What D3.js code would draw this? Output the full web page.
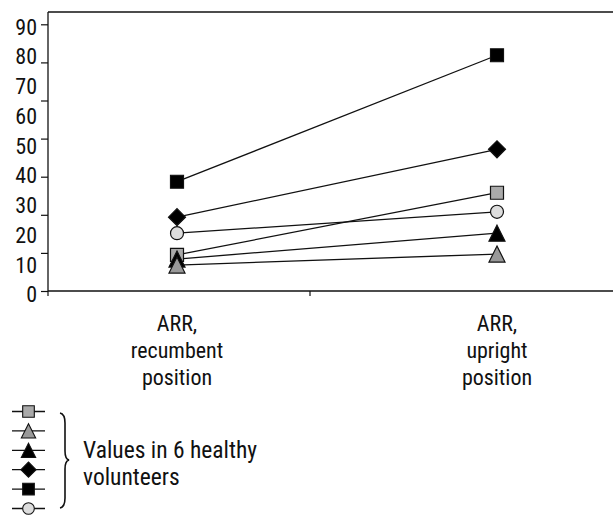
<!DOCTYPE html>
<html>
<head>
<meta charset="utf-8">
<script src="https://cdn.jsdelivr.net/npm/d3@7"></script>
<style>
  body { margin: 0; background: #fff; }
  svg { display: block; }
  text { font-family: "Roboto Condensed", "Liberation Sans Narrow", "DejaVu Sans Condensed", "Liberation Sans", Arial, sans-serif; fill: #111; }
</style>
</head>
<body>
<svg id="chart"></svg>
<script>
// data
const categories = ["ARR, recumbent position", "ARR, upright position"];
const categoryLines = [["ARR,", "recumbent", "position"], ["ARR,", "upright", "position"]];
const yTickLabels = [0, 10, 20, 30, 40, 50, 60, 70, 80, 90];
const volunteers = ["v1", "v2", "v3", "v4", "v5", "v6"];
const recumbentValues = [13.3, 9.9, 11.9, 26.0, 37.9, 20.6];
const uprightValues = [34.2, 13.6, 20.6, 48.8, 80.4, 27.8];
const legendText = ["Values in 6 healthy", "volunteers"];

// marker style for each volunteer (same order)
const markerStyle = [
    { shape: "square", fill: "#aaaaaa" },
    { shape: "triangle", fill: "#999999" },
    { shape: "triangle", fill: "#000000" },
    { shape: "diamond", fill: "#000000" },
    { shape: "square", fill: "#000000" },
    { shape: "circle", fill: "#dddddd" }
];

const width = 613, height = 515;
const axisX = 48, axisTop = 12, axisBottom = 291;

const svg = d3.select("#chart")
    .attr("width", width)
    .attr("height", height);

// custom triangle, centred on its bounding box
const triangleType = {
    draw(context, size) {
        const s = Math.sqrt(size);
        context.moveTo(0, -s / 2);
        context.lineTo(s / 2, s / 2);
        context.lineTo(-s / 2, s / 2);
        context.closePath();
    }
};

function markerPath(shape, scale) {
    if (shape === "square") return d3.symbol(d3.symbolSquare, 169 * scale)();
    if (shape === "diamond") return d3.symbol(d3.symbolSquare, 144 * scale)();
    if (shape === "circle") return d3.symbol(d3.symbolCircle, 133 * scale)();
    return d3.symbol(triangleType, 256 * scale)();
}

// y: labels sit on an evenly spaced 0-90 scale, tick marks on a separate 0-70 grid
const yScale = d3.scaleLinear()
    .domain([0, 90])
    .range([294.5, 26.7]);

const yTickScale = d3.scaleLinear()
    .domain([0, 70])
    .range([axisBottom, 24.3]);

const xScale = d3.scalePoint()
    .domain(categories)
    .range([177, 497]);

// frame lines
svg.append("line")
    .attr("x1", axisX).attr("x2", width)
    .attr("y1", axisTop).attr("y2", axisTop)
    .attr("stroke", "#111").attr("stroke-width", 1.3);

svg.append("line")
    .attr("x1", axisX).attr("x2", width)
    .attr("y1", axisBottom).attr("y2", axisBottom)
    .attr("stroke", "#111").attr("stroke-width", 1.3);

// y tick marks
const yAxisMarks = d3.axisLeft(yTickScale)
    .ticks(7)
    .tickSize(7)
    .tickSizeOuter(0)
    .tickFormat("");

const yMarks = svg.append("g")
    .attr("transform", `translate(${axisX},0)`)
    .call(yAxisMarks);
yMarks.select(".domain")
    .attr("d", `M0,${axisTop}V${axisBottom}`)
    .attr("stroke", "#111").attr("stroke-width", 1.3);
yMarks.selectAll(".tick line").attr("stroke", "#111").attr("stroke-width", 1.2);

// y labels
svg.append("g")
    .selectAll("text")
    .data(yTickLabels)
    .join("text")
    .attr("x", 37)
    .attr("y", d => yScale(d))
    .attr("dy", "0.36em")
    .attr("text-anchor", "end")
    .style("font-size", "22px")
    .text(d => d);

// small ticks below the x axis
svg.append("g")
    .selectAll("line")
    .data([axisX, 310])
    .join("line")
    .attr("x1", d => d).attr("x2", d => d)
    .attr("y1", axisBottom).attr("y2", axisBottom + 5)
    .attr("stroke", "#111").attr("stroke-width", 1.2);

// category labels
categories.forEach((c, i) => {
    svg.append("text")
        .attr("text-anchor", "middle")
        .style("font-size", "22px")
        .selectAll("tspan")
        .data(categoryLines[i])
        .join("tspan")
        .attr("x", xScale(c))
        .attr("y", (d, j) => 330.5 + j * 27)
        .text(d => d);
});

// series lines
const seriesData = volunteers.map((v, i) => ({
    id: v,
    style: markerStyle[i],
    points: [
        { cat: categories[0], value: recumbentValues[i] },
        { cat: categories[1], value: uprightValues[i] }
    ]
}));

const line = d3.line()
    .x(d => xScale(d.cat))
    .y(d => yScale(d.value));

svg.append("g")
    .selectAll("path")
    .data(seriesData)
    .join("path")
    .attr("d", d => line(d.points))
    .attr("fill", "none")
    .attr("stroke", "#111")
    .attr("stroke-width", 1.3);

// markers: draw black triangle before gray one, as in the picture
const drawOrder = [5, 0, 3, 4, 2, 1];
drawOrder.forEach(i => {
    const s = seriesData[i];
    svg.append("g")
        .selectAll("path")
        .data(s.points)
        .join("path")
        .attr("d", markerPath(s.style.shape, 1))
        .attr("transform", d => `translate(${xScale(d.cat)},${yScale(d.value)})` +
            (s.style.shape === "diamond" ? " rotate(45)" : ""))
        .attr("fill", s.style.fill)
        .attr("stroke", "#111")
        .attr("stroke-width", 1.2);
});

// legend
const legendY = d3.scalePoint()
    .domain(volunteers)
    .range([411.5, 508.5]);

const legend = svg.append("g");
seriesData.forEach(s => {
    const y = legendY(s.id);
    legend.append("line")
        .attr("x1", 12).attr("x2", 45)
        .attr("y1", y).attr("y2", y)
        .attr("stroke", "#111").attr("stroke-width", 1.3);
    legend.append("path")
        .attr("d", markerPath(s.style.shape, 0.8))
        .attr("transform", `translate(28.5,${y})` + (s.style.shape === "diamond" ? " rotate(45)" : ""))
        .attr("fill", s.style.fill)
        .attr("stroke", "#111")
        .attr("stroke-width", 1.1);
});

// brace
legend.append("path")
    .attr("d", "M60,413 Q65,414 65,423 L65,451 Q65,459 69,460 Q65,461 65,469 L65,498 Q65,507 60,508")
    .attr("fill", "none")
    .attr("stroke", "#111")
    .attr("stroke-width", 1.6);

legend.append("text")
    .style("font-size", "23.5px")
    .selectAll("tspan")
    .data(legendText)
    .join("tspan")
    .attr("x", 83)
    .attr("y", (d, i) => 458 + i * 27)
    .text(d => d);
</script>
</body>
</html>
